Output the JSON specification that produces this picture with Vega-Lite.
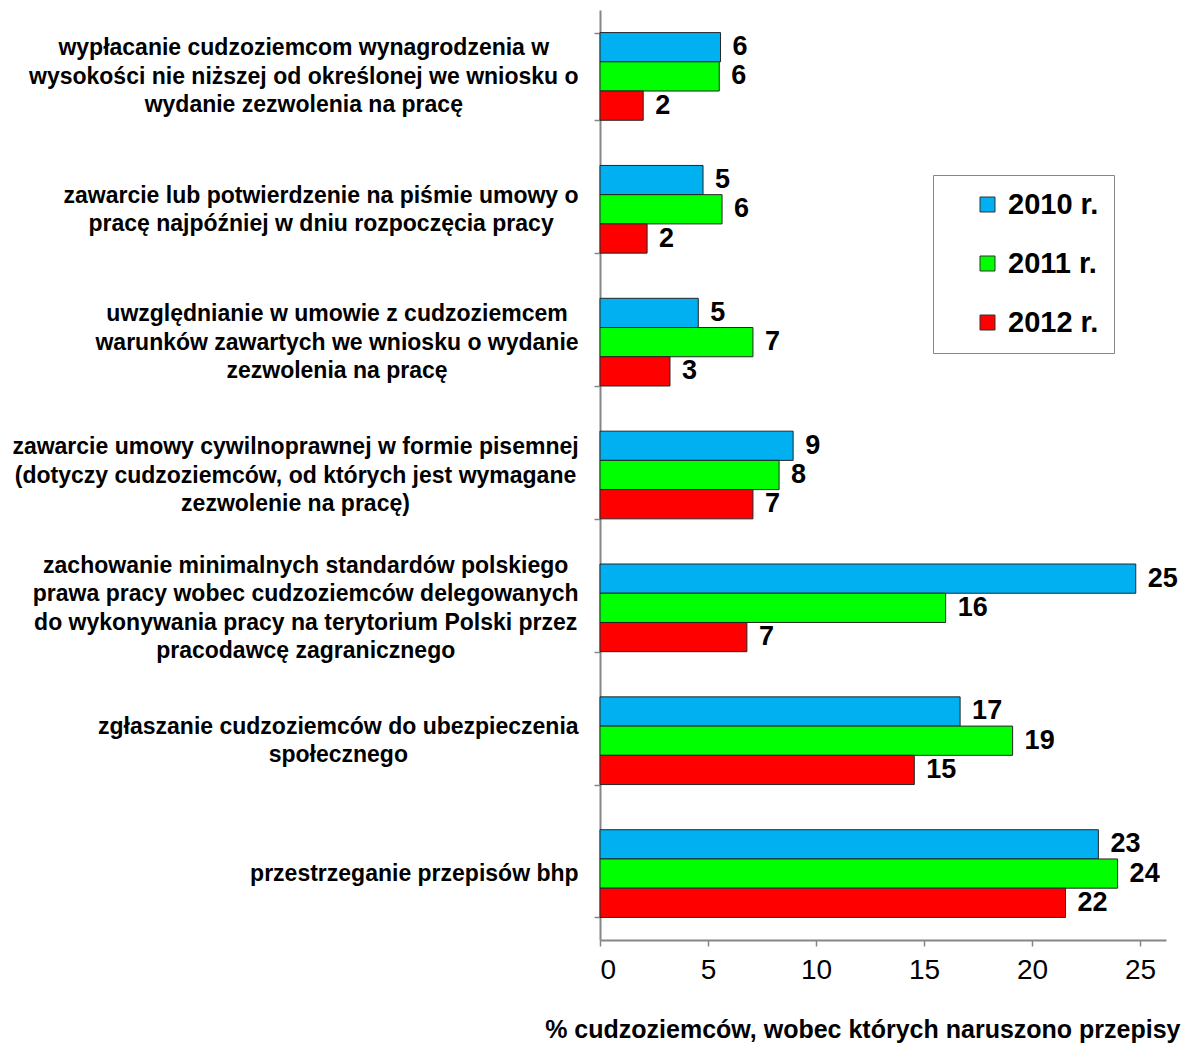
{
  "$schema": "https://vega.github.io/schema/vega-lite/v6.json",
  "autosize": {"type": "none"},
  "padding": {"left": 600, "top": 10, "right": 22, "bottom": 109},
  "width": 566,
  "height": 930,
  "background": "white",
  "config": {
    "font": "Liberation Sans",
    "view": {"stroke": null}
  },
  "data": {
    "values": [
      {"kategoria": "wypłacanie cudzoziemcom wynagrodzenia w|wysokości nie niższej od określonej we wniosku o|wydanie zezwolenia na pracę", "rok": "2010 r.", "wartosc": 5.58},
      {"kategoria": "wypłacanie cudzoziemcom wynagrodzenia w|wysokości nie niższej od określonej we wniosku o|wydanie zezwolenia na pracę", "rok": "2011 r.", "wartosc": 5.52},
      {"kategoria": "wypłacanie cudzoziemcom wynagrodzenia w|wysokości nie niższej od określonej we wniosku o|wydanie zezwolenia na pracę", "rok": "2012 r.", "wartosc": 2.0},
      {"kategoria": "zawarcie lub potwierdzenie na piśmie umowy o|pracę najpóźniej w dniu rozpoczęcia pracy", "rok": "2010 r.", "wartosc": 4.77},
      {"kategoria": "zawarcie lub potwierdzenie na piśmie umowy o|pracę najpóźniej w dniu rozpoczęcia pracy", "rok": "2011 r.", "wartosc": 5.65},
      {"kategoria": "zawarcie lub potwierdzenie na piśmie umowy o|pracę najpóźniej w dniu rozpoczęcia pracy", "rok": "2012 r.", "wartosc": 2.18},
      {"kategoria": "uwzględnianie w umowie z cudzoziemcem|warunków zawartych we wniosku o wydanie|zezwolenia na pracę", "rok": "2010 r.", "wartosc": 4.55},
      {"kategoria": "uwzględnianie w umowie z cudzoziemcem|warunków zawartych we wniosku o wydanie|zezwolenia na pracę", "rok": "2011 r.", "wartosc": 7.08},
      {"kategoria": "uwzględnianie w umowie z cudzoziemcem|warunków zawartych we wniosku o wydanie|zezwolenia na pracę", "rok": "2012 r.", "wartosc": 3.24},
      {"kategoria": "zawarcie umowy cywilnoprawnej w formie pisemnej|(dotyczy cudzoziemców, od których jest wymagane|zezwolenie na pracę)", "rok": "2010 r.", "wartosc": 8.94},
      {"kategoria": "zawarcie umowy cywilnoprawnej w formie pisemnej|(dotyczy cudzoziemców, od których jest wymagane|zezwolenie na pracę)", "rok": "2011 r.", "wartosc": 8.29},
      {"kategoria": "zawarcie umowy cywilnoprawnej w formie pisemnej|(dotyczy cudzoziemców, od których jest wymagane|zezwolenie na pracę)", "rok": "2012 r.", "wartosc": 7.08},
      {"kategoria": "zachowanie minimalnych standardów polskiego|prawa pracy wobec cudzoziemców delegowanych|do wykonywania pracy na terytorium Polski przez|pracodawcę zagranicznego", "rok": "2010 r.", "wartosc": 24.8},
      {"kategoria": "zachowanie minimalnych standardów polskiego|prawa pracy wobec cudzoziemców delegowanych|do wykonywania pracy na terytorium Polski przez|pracodawcę zagranicznego", "rok": "2011 r.", "wartosc": 16.0},
      {"kategoria": "zachowanie minimalnych standardów polskiego|prawa pracy wobec cudzoziemców delegowanych|do wykonywania pracy na terytorium Polski przez|pracodawcę zagranicznego", "rok": "2012 r.", "wartosc": 6.8},
      {"kategoria": "zgłaszanie cudzoziemców do ubezpieczenia|społecznego", "rok": "2010 r.", "wartosc": 16.67},
      {"kategoria": "zgłaszanie cudzoziemców do ubezpieczenia|społecznego", "rok": "2011 r.", "wartosc": 19.1},
      {"kategoria": "zgłaszanie cudzoziemców do ubezpieczenia|społecznego", "rok": "2012 r.", "wartosc": 14.55},
      {"kategoria": "przestrzeganie przepisów bhp", "rok": "2010 r.", "wartosc": 23.07},
      {"kategoria": "przestrzeganie przepisów bhp", "rok": "2011 r.", "wartosc": 23.96},
      {"kategoria": "przestrzeganie przepisów bhp", "rok": "2012 r.", "wartosc": 21.55}
    ]
  },
  "encoding": {
    "y": {
      "field": "kategoria",
      "type": "nominal",
      "sort": null,
      "scale": {"paddingInner": 0.34, "paddingOuter": 0.17},
      "axis": {
        "title": null,
        "labelExpr": "split(datum.label, '|')",
        "labelAlign": "center",
        "labelBaseline": "middle",
        "labelFontSize": 23,
        "labelFontWeight": "bold",
        "labelColor": "#000000",
        "labelLineHeight": 28.5,
        "labelLimit": 0,
        "labelPadding": 16,
        "tickBand": "extent",
        "tickSize": 6,
        "tickColor": "#868686",
        "tickWidth": 1.5,
        "domainColor": "#868686",
        "domainWidth": 2,
        "grid": false,
        "encoding": {
          "labels": {
            "dy": {"value": {"expr": "-(length(split(datum.value, '|')) - 1) * 14.25"}},
            "dx": {"value": {"expr": "-0.5 * max((1.3*length((split(datum.value,'|')[0]||''))+7.66*length(replace((split(datum.value,'|')[0]||''),regexp('[ijlł ,.]','g'),''))+6.39*length(replace((split(datum.value,'|')[0]||''),regexp('[ft()]','g'),''))+5.11*length(replace((split(datum.value,'|')[0]||''),regexp('r','g'),''))+1.27*length(replace((split(datum.value,'|')[0]||''),regexp('[acekvxysąęść]','g'),''))+2.55*length(replace((split(datum.value,'|')[0]||''),regexp('[zźż]','g'),''))-3.84*length(replace((split(datum.value,'|')[0]||''),regexp('w','g'),''))-6.39*length(replace((split(datum.value,'|')[0]||''),regexp('m','g'),''))), (1.3*length((split(datum.value,'|')[1]||''))+7.66*length(replace((split(datum.value,'|')[1]||''),regexp('[ijlł ,.]','g'),''))+6.39*length(replace((split(datum.value,'|')[1]||''),regexp('[ft()]','g'),''))+5.11*length(replace((split(datum.value,'|')[1]||''),regexp('r','g'),''))+1.27*length(replace((split(datum.value,'|')[1]||''),regexp('[acekvxysąęść]','g'),''))+2.55*length(replace((split(datum.value,'|')[1]||''),regexp('[zźż]','g'),''))-3.84*length(replace((split(datum.value,'|')[1]||''),regexp('w','g'),''))-6.39*length(replace((split(datum.value,'|')[1]||''),regexp('m','g'),''))), (1.3*length((split(datum.value,'|')[2]||''))+7.66*length(replace((split(datum.value,'|')[2]||''),regexp('[ijlł ,.]','g'),''))+6.39*length(replace((split(datum.value,'|')[2]||''),regexp('[ft()]','g'),''))+5.11*length(replace((split(datum.value,'|')[2]||''),regexp('r','g'),''))+1.27*length(replace((split(datum.value,'|')[2]||''),regexp('[acekvxysąęść]','g'),''))+2.55*length(replace((split(datum.value,'|')[2]||''),regexp('[zźż]','g'),''))-3.84*length(replace((split(datum.value,'|')[2]||''),regexp('w','g'),''))-6.39*length(replace((split(datum.value,'|')[2]||''),regexp('m','g'),''))), (1.3*length((split(datum.value,'|')[3]||''))+7.66*length(replace((split(datum.value,'|')[3]||''),regexp('[ijlł ,.]','g'),''))+6.39*length(replace((split(datum.value,'|')[3]||''),regexp('[ft()]','g'),''))+5.11*length(replace((split(datum.value,'|')[3]||''),regexp('r','g'),''))+1.27*length(replace((split(datum.value,'|')[3]||''),regexp('[acekvxysąęść]','g'),''))+2.55*length(replace((split(datum.value,'|')[3]||''),regexp('[zźż]','g'),''))-3.84*length(replace((split(datum.value,'|')[3]||''),regexp('w','g'),''))-6.39*length(replace((split(datum.value,'|')[3]||''),regexp('m','g'),''))))"}}
          }
        }
      }
    },
    "yOffset": {"field": "rok", "type": "nominal", "sort": "ascending", "scale": {"paddingInner": 0, "paddingOuter": 0}},
    "x": {
      "field": "wartosc",
      "type": "quantitative",
      "scale": {"domain": [0, 26.2], "nice": false, "zero": true},
      "axis": {
        "title": "% cudzoziemców, wobec których naruszono przepisy",
        "titleFontSize": 25,
        "titleFontWeight": "bold",
        "titleColor": "#000000",
        "titleAnchor": "end",
        "titleAlign": "right",
        "titleX": 580,
        "titleY": 97,
        "titleBaseline": "alphabetic",
        "values": [0, 5, 10, 15, 20, 25],
        "labelFontSize": 28,
        "labelColor": "#000000",
        "labelPadding": 10,
        "tickSize": 6,
        "tickColor": "#868686",
        "tickWidth": 1.5,
        "domainColor": "#868686",
        "domainWidth": 2,
        "grid": false
      }
    }
  },
  "layer": [
    {
      "mark": {"type": "bar", "stroke": "#262626", "strokeWidth": 1},
      "encoding": {
        "color": {
          "field": "rok",
          "type": "nominal",
          "scale": {"domain": ["2010 r.", "2011 r.", "2012 r."], "range": ["#00B0F0", "#00FF00", "#FF0000"]},
          "legend": {
            "title": null,
            "orient": "none",
            "legendX": 333,
            "legendY": 165,
            "strokeColor": "#868686",
            "fillColor": "white",
            "padding": 15,
            "symbolOffset": 25,
            "symbolType": "square",
            "symbolSize": 225,
            "symbolStrokeColor": "#333333",
            "symbolStrokeWidth": 1,
            "labelFontSize": 29,
            "labelFontWeight": "bold",
            "labelColor": "#000000",
            "labelOffset": 6,
            "rowPadding": 29
          }
        }
      }
    },
    {
      "mark": {"type": "text", "align": "left", "baseline": "middle", "dx": 12, "fontSize": 27, "fontWeight": "bold", "color": "#000000"},
      "encoding": {
        "text": {"field": "wartosc", "type": "quantitative", "format": ".0f"}
      }
    }
  ]
}
